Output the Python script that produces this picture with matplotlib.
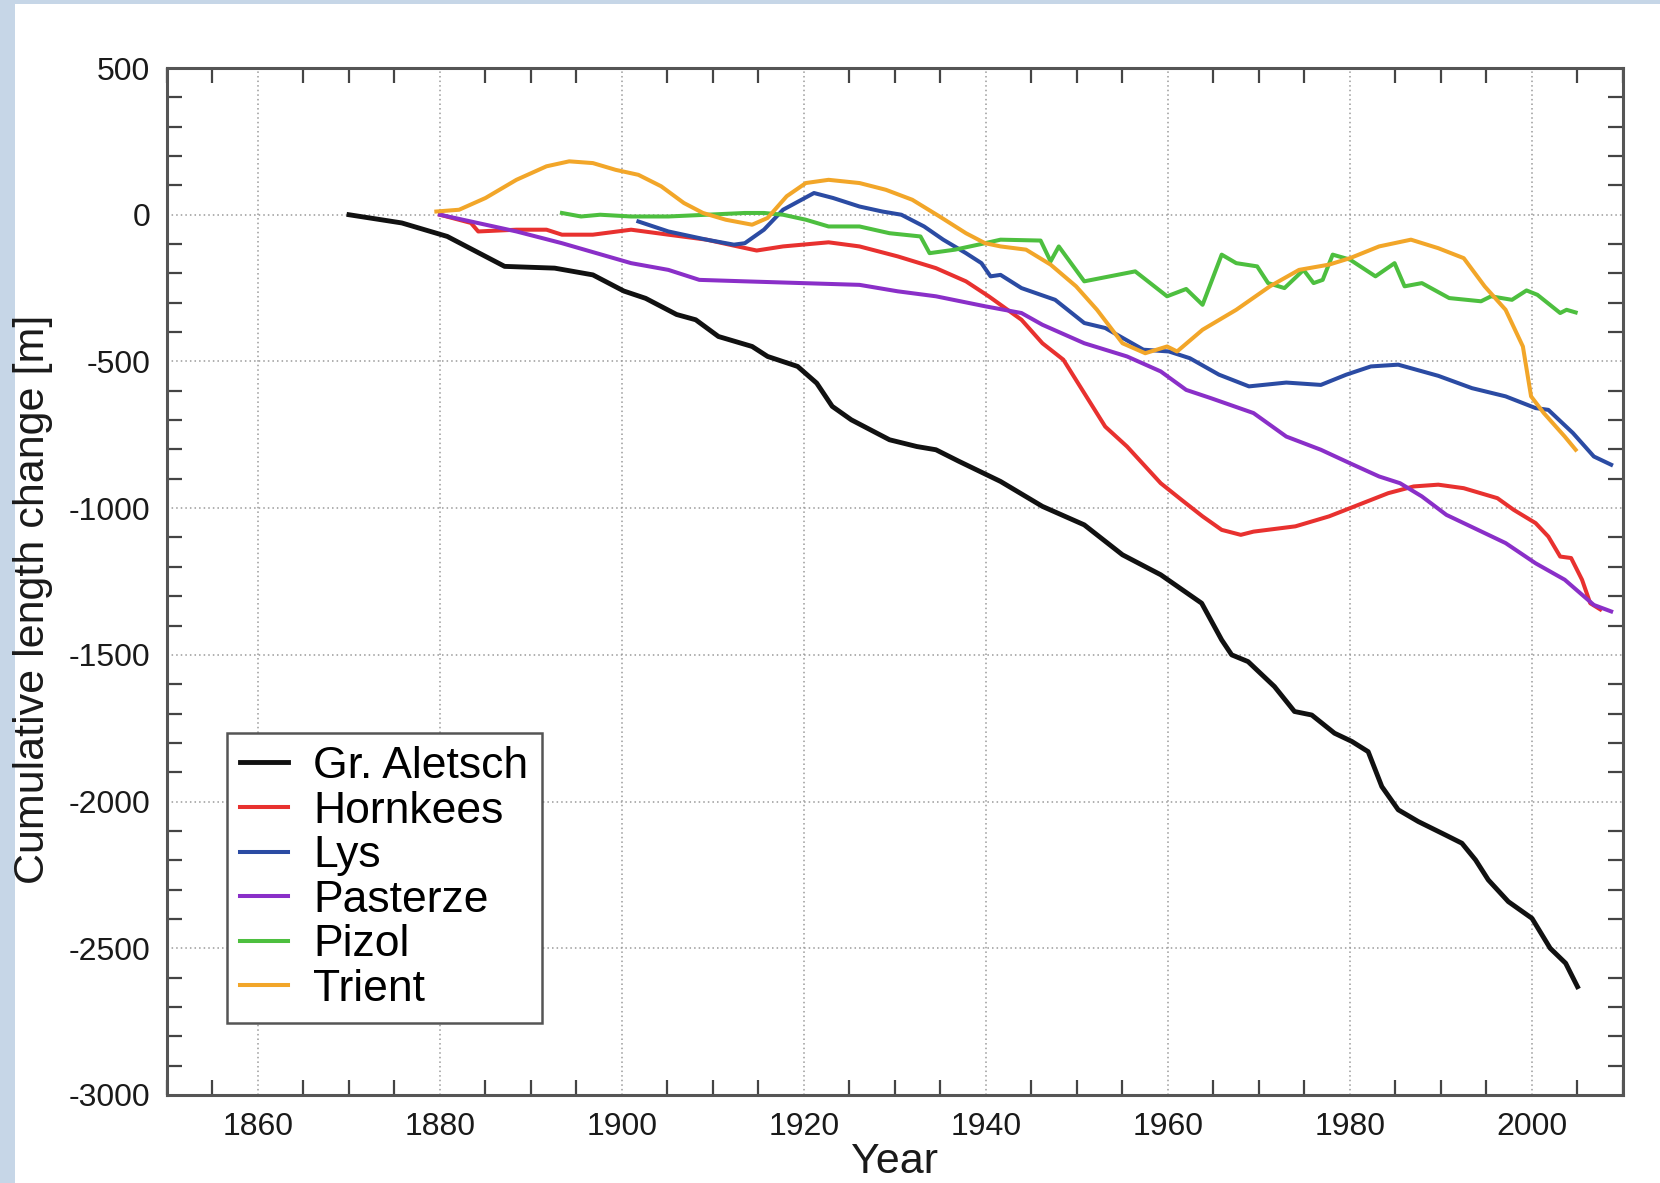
import matplotlib

matplotlib.use("Agg")
import matplotlib.pyplot as plt
from matplotlib.patches import Rectangle
from matplotlib.ticker import MultipleLocator

plt.rcParams["font.family"] = ["Liberation Sans", "DejaVu Sans"]
plt.rcParams["axes.unicode_minus"] = False

# cumulative length change [m]
aletsch_years = [1870, 1875.8, 1880.8, 1887.1, 1892.6, 1896.8, 1900.2, 1902.6, 1906, 1908.1,
                 1910.6, 1914.3, 1916, 1919.3, 1921.4, 1923.1, 1925.2, 1929.4, 1932.4, 1934.5,
                 1937, 1941.6, 1946.2, 1950.8, 1955, 1959.2, 1963.7, 1965.9, 1967, 1968.8,
                 1971.7, 1973.9, 1975.8, 1978.3, 1980.2, 1982, 1983.5, 1985.3, 1987.5, 1990.5,
                 1992.3, 1993.8, 1995.2, 1997.4, 2000, 2002, 2003.7, 2005]
aletsch_vals = [0, -28, -74, -176, -182, -205, -260, -285, -340, -358,
                -415, -449, -483, -517, -574, -653, -699, -767, -790, -801,
                -840, -909, -994, -1057, -1159, -1227, -1324, -1449, -1500, -1523,
                -1608, -1693, -1705, -1767, -1795, -1830, -1949, -2028, -2068, -2114,
                -2142, -2199, -2267, -2341, -2398, -2500, -2551, -2631]

hornkees_years = [1880, 1883.4, 1884.2, 1888.4, 1891.7, 1893.4, 1896.8, 1901, 1905.1, 1909.3,
                  1912.7, 1914.8, 1917.7, 1922.7, 1926.1, 1930.3, 1934.5, 1937.8, 1940.3,
                  1943.9, 1946.2, 1948.5, 1950.8, 1953.1, 1955.5, 1959.2, 1961.5, 1963.8,
                  1965.9, 1968, 1969.4, 1974, 1977.7, 1980.5, 1984.2, 1987, 1989.7, 1992.5,
                  1996.2, 1998, 2000.4, 2001.8, 2003.1, 2004.3, 2005.5, 2006.4, 2007.5]
hornkees_vals = [0, -28, -57, -51, -51, -68, -68, -51, -68, -85,
                 -108, -122, -108, -94, -108, -142, -182, -227, -278,
                 -358, -438, -494, -608, -722, -790, -915, -972, -1028,
                 -1074, -1091, -1080, -1062, -1028, -994, -949, -926, -920, -932,
                 -966, -1006, -1051, -1097, -1165, -1170, -1244, -1324, -1345]

lys_years = [1901.8, 1905.1, 1909.3, 1912.3, 1913.5, 1915.6, 1917.7, 1921.1, 1923.2, 1926.1,
             1928.6, 1930.7, 1933.2, 1935.3, 1937.8, 1939.5, 1940.5, 1941.6, 1943.9, 1947.6,
             1950.8, 1953.1, 1957.3, 1960.1, 1962.4, 1965.6, 1968.9, 1973, 1976.8, 1979.6,
             1982.3, 1985.3, 1989.7, 1993.4, 1997.1, 2000.4, 2001.8, 2004.5, 2006.8, 2008.7]
lys_vals = [-23, -57, -85, -102, -97, -51, 17, 74, 57, 28,
            11, 0, -40, -85, -131, -165, -210, -205, -250, -290,
            -369, -386, -460, -466, -489, -545, -585, -572, -580, -545,
            -517, -511, -549, -591, -619, -659, -665, -744, -824, -852]

pasterze_years = [1880, 1888.4, 1893.4, 1901, 1905.1, 1908.5, 1913.5, 1919.8, 1926.1, 1930.3,
                  1934.5, 1939.9, 1943.9, 1946.2, 1950.8, 1955.5, 1959.2, 1962, 1964.7, 1969.4,
                  1973, 1976.8, 1980, 1983.2, 1985.5, 1987.9, 1990.6, 1994.8, 1997.1, 2000.4,
                  2003.6, 2006.8, 2008.7]
pasterze_vals = [0, -57, -97, -165, -188, -222, -227, -233, -239, -261,
                 -278, -312, -335, -375, -438, -483, -534, -597, -625, -676,
                 -756, -801, -847, -892, -915, -960, -1023, -1085, -1119, -1188,
                 -1244, -1330, -1352]

pizol_years = [1893.4, 1895.5, 1897.6, 1901, 1905.1, 1909.3, 1913.5, 1915.6, 1917.7, 1920.2,
               1922.7, 1926.1, 1929.4, 1932.8, 1933.8, 1936.6, 1939.9, 1941.6, 1946, 1947.1,
               1948, 1950.8, 1956.4, 1959.9, 1962, 1963.8, 1965.9, 1967.5, 1969.8, 1971,
               1972.8, 1974.9, 1976, 1977, 1978.1, 1980, 1982.8, 1984.9, 1986, 1987.9,
               1990.9, 1994.4, 1995.5, 1997.8, 1999.4, 2000.6, 2003.1, 2003.8, 2004.8]
pizol_vals = [6, -6, 0, -6, -6, 0, 6, 6, 0, -17,
              -40, -40, -63, -74, -131, -119, -97, -85, -88, -159,
              -108, -227, -193, -278, -253, -307, -136, -165, -176, -233,
              -250, -188, -233, -222, -136, -153, -210, -165, -244, -233,
              -284, -295, -278, -290, -258, -273, -335, -324, -333]

trient_years = [1879.6, 1882.1, 1885, 1888.4, 1891.7, 1894.2, 1896.8, 1899.3, 1901.8, 1904.3,
                1906.8, 1908.9, 1911.4, 1914.3, 1916, 1918.1, 1920.2, 1922.7, 1926.1, 1929,
                1931.9, 1934.9, 1937.8, 1939.9, 1941.6, 1944.4, 1947.1, 1949.9, 1952.2, 1955,
                1957.5, 1959.9, 1961, 1963.8, 1967.5, 1971.2, 1974.4, 1977.7, 1980, 1983.2,
                1986.7, 1989.7, 1992.5, 1994.8, 1997.1, 1999, 1999.9, 2001.3, 2003.6, 2004.8]
trient_vals = [11, 17, 57, 119, 165, 182, 176, 153, 136, 97,
               40, 6, -17, -34, -11, 63, 108, 119, 108, 85,
               51, -6, -63, -97, -108, -119, -170, -244, -324, -438,
               -472, -449, -466, -392, -324, -244, -188, -170, -148, -108,
               -85, -114, -148, -244, -324, -449, -619, -676, -756, -801]

glaciers = ["Gr. Aletsch", "Hornkees", "Lys", "Pasterze", "Pizol", "Trient"]
series = [(aletsch_years, aletsch_vals), (hornkees_years, hornkees_vals),
          (lys_years, lys_vals), (pasterze_years, pasterze_vals),
          (pizol_years, pizol_vals), (trient_years, trient_vals)]
colors = ["#111111", "#e8312f", "#2b4ba3", "#8a2fc8", "#4dbf3f", "#f2a629"]

fig = plt.figure(figsize=(16.6, 11.83), dpi=100, facecolor="white")
# light blue frame strips of the original slide
fig.patches.append(Rectangle((0, 0), 15 / 1660, 1, transform=fig.transFigure,
                             facecolor="#c6d6e7", edgecolor="none", zorder=-5))
fig.patches.append(Rectangle((0, 1 - 4 / 1183), 1, 4 / 1183, transform=fig.transFigure,
                             facecolor="#c6d6e7", edgecolor="none", zorder=-5))

ax = fig.add_axes([0.1006, 0.0744, 0.8771, 0.8681])
for name, (xs, ys), c in zip(glaciers, series, colors):
    lw = 3.5 if c == "#111111" else 2.9
    ax.plot(xs, ys, color=c, lw=lw, label=name, solid_joinstyle="round")

ax.set_xlim(1850, 2010)
ax.set_ylim(-3000, 500)
ax.xaxis.set_major_locator(MultipleLocator(20))
ax.xaxis.set_minor_locator(MultipleLocator(5))
ax.yaxis.set_major_locator(MultipleLocator(500))
ax.yaxis.set_minor_locator(MultipleLocator(100))
ax.grid(True, which="major", linestyle=(0, (1, 2)), color="#9a9a9a", lw=1.1)
ax.tick_params(which="both", direction="in", top=True, right=True, color="#444444")
ax.tick_params(which="major", length=0, labelsize=23, pad=12, labelcolor="#1a1a1a")
ax.tick_params(which="minor", length=11, width=1.6)
for sp in ax.spines.values():
    sp.set_color("#555555")
    sp.set_linewidth(2.2)

ax.set_xlabel("Year", fontsize=31, labelpad=0, color="#1a1a1a")
ax.set_ylabel("Cumulative length change [m]", fontsize=31, color="#1a1a1a")
ax.yaxis.set_label_coords(-0.078, 0.483)

leg = ax.legend(loc="lower left", bbox_to_anchor=(0.041, 0.07), fontsize=32,
                handlelength=1.08, handletextpad=0.57, labelspacing=0.08, borderpad=0.3,
                borderaxespad=0, fancybox=False, framealpha=1)
leg.get_frame().set_edgecolor("#555555")
leg.get_frame().set_linewidth(1.8)

fig.savefig("out.png", dpi=100, facecolor="white")
